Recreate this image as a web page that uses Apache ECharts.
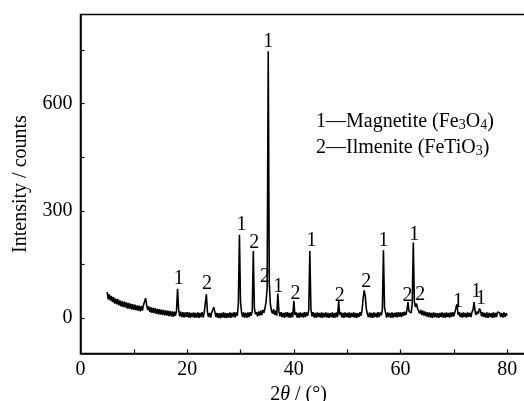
<!DOCTYPE html>
<html>
<head>
<meta charset="utf-8">
<script src="https://cdn.jsdelivr.net/npm/echarts@6/dist/echarts.min.js"></script>
<style>html,body{margin:0;padding:0;background:#fff}#c{width:524px;height:401px}</style>
</head>
<body>
<div id="c"></div>
<script>
// Scan grid: 2θ from 5° to 80° in 0.2° steps
var scanStart = 5.0;
var scanStep = 0.2;
// Intensity, one row per degree (x.0, x.2, x.4, x.6, x.8)
var intensity = [
  72, 52, 66, 48, 61,   // 5
  44, 58, 40, 54, 38,   // 6
  52, 35, 49, 32, 47,   // 7
  30, 45, 29, 43, 26,   // 8
  42, 25, 40, 23, 38,   // 9
  22, 37, 21, 35, 20,   // 10
  34, 18, 33, 20, 35,   // 11
  40, 55, 36, 22, 32,   // 12
  16, 30, 14, 28, 13,   // 13
  27, 11, 25, 10, 24,   // 14
  9, 23, 8, 22, 7,      // 15
  21, 6, 20, 5, 19,     // 16
  4, 18, 3, 17, 6,      // 17
  19, 81, 24, 4, 17,    // 18
  2, 16, 1, 15, 3,      // 19
  16, 1, 15, 0, 14,     // 20
  2, 15, 0, 14, 1,      // 21
  15, 0, 14, 2, 16,     // 22
  1, 15, 18, 66, 16,    // 23
  2, 14, 1, 15, 18,     // 24
  30, 16, 2, 14, 0,     // 25
  13, -1, 14, 1, 15,    // 26
  0, 14, -1, 13, 1,     // 27
  15, 0, 14, 2, 16,     // 28
  1, 15, 6, 40, 233,    // 29
  45, 16, 2, 15, 1,     // 30
  14, 0, 15, 2, 16,     // 31
  6, 18, 187, 28, 10,   // 32
  16, 4, 18, 6, 20,     // 33
  8, 22, 14, 28, 45,    // 34
  85, 747, 95, 38, 20,  // 35
  12, 24, 8, 20, 6,     // 36
  68, 18, 4, 16, 2,     // 37
  14, 0, 15, 2, 16,     // 38
  1, 14, 0, 15, 2,      // 39
  48, 8, 16, 1, 14,     // 40
  0, 15, 2, 14, 1,      // 41
  16, 2, 15, 6, 22,     // 42
  187, 26, 4, 16, 1,    // 43
  14, 0, 15, 2, 14,     // 44
  1, 15, 0, 14, 2,      // 45
  15, 1, 14, 0, 13,     // 46
  2, 15, 0, 14, 1,      // 47
  15, 2, 48, 8, 16,     // 48
  1, 14, 0, 15, 2,      // 49
  14, 1, 15, 0, 14,     // 50
  2, 15, 1, 14, 0,      // 51
  13, 2, 16, 6, 22,     // 52
  55, 77, 60, 25, 10,   // 53
  2, 15, 1, 14, 0,      // 54
  15, 2, 14, 1, 16,     // 55
  2, 15, 7, 24, 189,    // 56
  30, 14, 1, 15, 2,     // 57
  14, 0, 15, 1, 14,     // 58
  2, 15, 1, 16, 3,      // 59
  15, 2, 16, 6, 17,     // 60
  8, 20, 44, 18, 22,    // 61
  14, 40, 211, 45, 30,  // 62
  40, 26, 24, 12, 22,   // 63
  8, 20, 6, 18, 4,      // 64
  16, 2, 15, 1, 14,     // 65
  0, 15, 2, 14, 1,      // 66
  13, 0, 14, 2, 15,     // 67
  1, 14, 0, 15, 2,      // 68
  14, 1, 15, 3, 16,     // 69
  4, 16, 14, 38, 8,     // 70
  16, 2, 14, 1, 15,     // 71
  2, 14, 1, 15, 3,      // 72
  14, 2, 16, 22, 44,    // 73
  16, 8, 18, 12, 26,    // 74
  20, 4, 16, 2, 14,     // 75
  1, 15, 0, 14, 2,      // 76
  13, 0, 15, 1, 14,     // 77
  2, 16, 20, 14, 2,     // 78
  14, 1, 15, 2, 13,     // 79
  6                     // 80
];
// Peak annotations (phase number) placed in data coordinates
var peakLabelAngle = [18.4, 23.7, 30.2, 32.6, 34.6, 35.2, 37.1, 40.3, 43.3, 48.6, 53.6, 56.8, 61.3, 62.6, 63.7, 70.8, 74.2, 75.1];
var peakLabelY     = [110, 96, 262, 209, 114, 775, 88, 68, 215, 63, 102, 215, 63, 234, 65, 44, 72, 53];
var peakLabelText  = ['1','2','1','2','2','1','1','2','1','2','2','1','2','1','2','1','1','1'];
// Axis ticks / labels
var xTicks = [10, 20, 30, 40, 50, 60, 70, 80];
var xLabels = [0, 20, 40, 60, 80];
var yTicks = [0, 150, 300, 450, 600, 750];
var yLabels = [0, 300, 600];
var legendLines = ['1—Magnetite (Fe{sub|3}O{sub|4})', '2—Ilmenite (FeTiO{sub|3})'];

var lineData = intensity.map(function (v, i) {
  return [+(scanStart + i * scanStep).toFixed(1), v];
});
var labelData = peakLabelAngle.map(function (a, i) {
  return [a, peakLabelY[i], peakLabelText[i]];
});

var FONT = '"Liberation Serif", "DejaVu Serif", serif';
var chart = echarts.init(document.getElementById('c'), null, {renderer: 'canvas'});
chart.setOption({
  animation: false,
  backgroundColor: '#fff',
  textStyle: {fontFamily: FONT, color: '#000'},
  grid: {left: 80.5, top: 14.5, width: 448, height: 339, outerBoundsMode: 'none', containLabel: false,
    show: true, borderColor: '#000', borderWidth: 1.5, backgroundColor: 'transparent'},
  xAxis: {
    type: 'value', min: 0, max: 84,
    axisLine: {show: true, onZero: false, lineStyle: {color: '#000', width: 1.5}},
    axisTick: {show: true, inside: true, length: 4, customValues: xTicks, lineStyle: {color: '#000', width: 1.2}},
    axisLabel: {customValues: xLabels, fontFamily: FONT, fontSize: 20, color: '#000', margin: 6},
    splitLine: {show: false},
    name: '2{it|θ} / (°)',
    nameLocation: 'middle', nameGap: 24,
    nameTextStyle: {fontFamily: FONT, fontSize: 20, color: '#000', padding: [0, 12, 0, 0],
      rich: {it: {fontFamily: FONT, fontSize: 20, fontStyle: 'italic', color: '#000'}}}
  },
  yAxis: {
    type: 'value', min: -100, max: 850,
    axisLine: {show: true, onZero: false, lineStyle: {color: '#000', width: 1.5}},
    axisTick: {show: true, inside: true, length: 4, customValues: yTicks, lineStyle: {color: '#000', width: 1.2}},
    axisLabel: {customValues: yLabels, fontFamily: FONT, fontSize: 20, color: '#000', margin: 8},
    splitLine: {show: false},
    name: 'Intensity / counts',
    nameLocation: 'middle', nameGap: 50,
    nameTextStyle: {fontFamily: FONT, fontSize: 20, color: '#000'}
  },
  series: [
    {
      type: 'line', data: lineData, showSymbol: false, symbol: 'none',
      lineStyle: {color: '#000', width: 1.6}, z: 3
    },
    {
      type: 'scatter', data: labelData, symbolSize: 0, z: 4,
      itemStyle: {opacity: 1, color: '#000'},
      label: {show: true, position: 'inside', fontFamily: FONT, fontSize: 20, color: '#000', opacity: 1,
        formatter: function (p) { return p.data[2]; }}
    }
  ],
  graphic: [{
    type: 'group', left: 316, top: 112,
    children: legendLines.map(function (t, i) {
      return {
        type: 'text', x: 0, y: i * 26,
        style: {
          text: t, font: '20px ' + FONT, fill: '#000',
          rich: {sub: {fontFamily: FONT, fontSize: 14, fill: '#000', verticalAlign: 'bottom', lineHeight: 13}}
        }
      };
    })
  }]
});
</script>
</body>
</html>
